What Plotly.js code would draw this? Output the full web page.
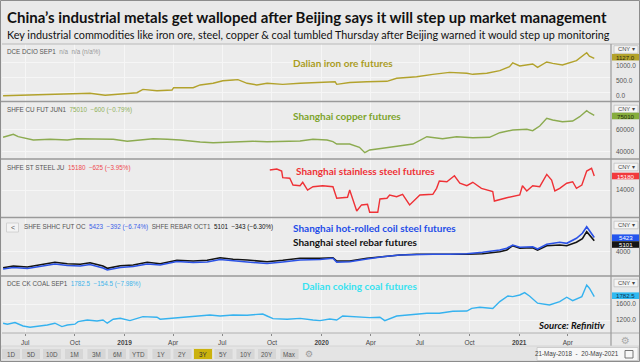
<!DOCTYPE html>
<html><head><meta charset="utf-8">
<script src="https://cdn.plot.ly/plotly-3.0.1.min.js"></script>
<style>html,body{margin:0;padding:0;background:#eaeaea;}#chart{width:640px;height:362px;}</style>
</head><body><div id="chart"></div>
<script>
// ---------- DATA ----------
const ironDates = ['2018-05-21','2018-07-16','2018-09-17','2018-10-29','2018-11-26','2018-12-18','2019-01-24','2019-02-04','2019-03-02','2019-03-30','2019-04-02','2019-05-08','2019-05-21','2019-06-14','2019-07-02','2019-07-21','2019-07-30','2019-08-16','2019-09-03','2019-09-22','2019-10-21','2019-11-22','2019-12-29','2020-01-26','2020-01-29','2020-02-22','2020-03-25','2020-05-01','2020-05-19','2020-06-25','2020-07-25','2020-08-25','2020-09-26','2020-10-07','2020-11-02','2020-11-26','2020-12-14','2020-12-20','2021-01-02','2021-01-26','2021-02-04','2021-02-21','2021-03-04','2021-03-22','2021-04-17','2021-05-06','2021-05-11','2021-05-20'];
const ironValues = [-100,-75,-55,-20,-85,-45,0,110,65,90,165,165,255,310,395,420,430,310,255,310,275,310,330,360,275,335,360,375,475,525,605,670,640,605,640,725,855,985,880,945,835,1010,965,910,1055,1315,1205,1127];

const copperDates = ['2018-05-21','2018-05-29','2018-06-09','2018-06-18','2018-07-05','2018-07-16','2018-08-16','2018-09-17','2018-10-05','2018-11-11','2018-12-11','2019-01-06','2019-01-30','2019-02-23','2019-03-21','2019-04-14','2019-05-21','2019-06-14','2019-07-21','2019-08-27','2019-09-22','2019-10-21','2019-11-22','2019-12-16','2020-01-11','2020-01-22','2020-01-29','2020-02-22','2020-03-11','2020-03-21','2020-03-30','2020-04-23','2020-05-25','2020-06-18','2020-07-14','2020-07-25','2020-08-12','2020-09-07','2020-10-07','2020-11-07','2020-11-26','2020-12-20','2021-01-15','2021-01-26','2021-02-08','2021-02-21','2021-03-04','2021-03-22','2021-04-10','2021-04-23','2021-05-06','2021-05-11','2021-05-20'];
const copperValues = [52860,54020,55540,53390,51610,50450,51070,50450,51610,51610,51070,49290,50450,51610,51070,50450,48660,48040,48660,49290,48930,49290,49550,51070,50450,48930,46870,46870,43930,39110,41520,43040,45090,46870,53390,52860,51610,53390,52500,52860,56960,59380,60000,58750,62950,69820,68300,66790,67410,71250,76610,74820,72500];

const stainlessDates = ['2019-09-27','2019-10-10','2019-10-19','2019-10-21','2019-11-03','2019-11-09','2019-11-22','2019-11-27','2019-12-06','2019-12-16','2020-01-03','2020-01-22','2020-01-29','2020-02-18','2020-02-22','2020-02-28','2020-03-06','2020-03-15','2020-03-26','2020-03-30','2020-04-14','2020-04-18','2020-05-01','2020-05-06','2020-05-19','2020-05-30','2020-06-12','2020-07-01','2020-07-25','2020-08-01','2020-08-06','2020-08-20','2020-09-03','2020-09-13','2020-09-26','2020-10-07','2020-10-23','2020-11-13','2020-11-16','2020-12-09','2021-01-02','2021-01-07','2021-01-15','2021-01-26','2021-02-08','2021-02-21','2021-03-02','2021-03-08','2021-03-17','2021-03-30','2021-04-10','2021-04-17','2021-04-27','2021-05-06','2021-05-15','2021-05-20'];
const stainlessValues = [15690,15770,15600,15040,14990,14420,14360,14650,14000,14280,14360,14280,13300,13385,14000,13160,12230,12740,12800,12120,12120,13240,13300,13580,13435,13640,12740,13580,13640,14140,14760,14700,15200,14570,14360,14650,14140,13860,13070,13350,13580,14360,13920,14360,14280,15320,14840,13920,14140,14570,14700,14140,14420,15600,15830,15180];

const steelDates = ['2018-05-21','2018-06-09','2018-07-05','2018-07-29','2018-08-25','2018-09-17','2018-10-11','2018-10-29','2018-11-22','2018-11-30','2018-12-24','2019-01-17','2019-02-12','2019-03-08','2019-04-08','2019-05-08','2019-06-03','2019-06-27','2019-07-21','2019-08-16','2019-09-09','2019-09-22','2019-10-21','2019-11-22','2019-12-29','2020-01-22','2020-01-29','2020-02-22','2020-03-25','2020-04-23','2020-05-25','2020-06-25','2020-07-25','2020-08-25','2020-09-26','2020-10-25','2020-11-26','2020-12-09','2020-12-20','2021-01-02','2021-01-26','2021-02-04','2021-02-21','2021-03-17','2021-03-30','2021-04-17','2021-04-28','2021-05-06','2021-05-13','2021-05-20'];
const hrcValues   = [2270,2420,2320,2520,2770,2620,2570,2720,2370,2170,2420,2520,2770,2670,3020,2920,2970,3220,3070,2970,2870,2820,2970,3170,3220,3340,2940,3000,3270,3500,3670,3740,3740,3740,3800,3940,4170,4350,4670,4440,4500,4270,4740,4940,4840,5340,5840,6500,5940,5423];
const rebarValues = [2400,2570,2470,2670,2940,2800,2740,2900,2570,2340,2600,2670,2940,2800,3140,3070,3140,3400,3240,3170,3070,3000,3140,3340,3340,3400,3070,3070,3340,3500,3670,3740,3740,3670,3740,3800,4000,4170,4600,4340,4400,4170,4600,4670,4600,4940,5300,6000,5500,5101];

const coalDates = ['2018-05-21','2018-05-29','2018-06-12','2018-06-27','2018-07-10','2018-07-23','2018-08-11','2018-08-25','2018-09-07','2018-09-17','2018-10-01','2018-10-07','2018-10-24','2018-11-11','2018-11-22','2018-11-30','2018-12-11','2018-12-24','2019-01-11','2019-02-04','2019-03-02','2019-03-08','2019-04-01','2019-04-27','2019-05-21','2019-06-08','2019-06-27','2019-07-21','2019-08-16','2019-09-14','2019-09-22','2019-10-03','2019-10-29','2019-11-22','2019-12-16','2019-12-29','2020-01-16','2020-01-29','2020-02-09','2020-03-06','2020-03-30','2020-04-18','2020-04-27','2020-05-19','2020-06-12','2020-07-14','2020-08-06','2020-08-31','2020-09-26','2020-10-05','2020-10-20','2020-11-13','2020-11-26','2020-12-11','2020-12-20','2021-01-02','2021-01-11','2021-01-20','2021-02-04','2021-02-26','2021-03-17','2021-03-30','2021-04-10','2021-04-27','2021-05-06','2021-05-11','2021-05-20'];
const coalValues = [1120,1095,1135,1050,1020,1035,1075,1120,1035,1075,1095,1160,1200,1175,1200,1120,1220,1245,1185,1285,1270,1220,1245,1285,1300,1325,1300,1325,1320,1350,1300,1235,1220,1240,1200,1185,1225,1200,1300,1285,1260,1270,1185,1300,1335,1370,1370,1420,1425,1490,1520,1490,1660,1800,1785,1825,1885,1800,1620,1575,1660,1770,1685,1785,2075,1995,1782.5];

const tickDates = ['2018-07-01','2018-10-01','2019-01-01','2019-04-01','2019-07-01','2019-10-01','2020-01-01','2020-04-01','2020-07-01','2020-10-01','2021-01-01','2021-04-01'];
const tickLabels = ['Jul','Oct','<b>2019</b>','Apr','Jul','Oct','<b>2020</b>','Apr','Jul','Oct','<b>2021</b>','Apr'];

const titleText = 'China’s industrial metals get walloped after Beijing says it will step up market management';
const subtitleText = 'Key industrial commodities like iron ore, steel, copper & coal tumbled Thursday after Beijing warned it would step up monitoring';
const rangeButtons = ['1D','5D','10D','1M','3M','6M','YTD','1Y','2Y','3Y','5Y','10Y','20Y','Max'];

// ---------- LAYOUT HELPERS ----------
const W = 640, H = 362, L = 2, R = 29, T = 44, B = 29;
const PW = W - L - R, PH = H - T - B;
const px = x => (x - L) / PW;
const py = y => (H - B - y) / PH;

const C = {iron:'#b2a22c', ironT:'#aa9c1e', copper:'#8cab50', copperT:'#7da42c', stain:'#ef3136', hrc:'#2b52e6', rebar:'#141414', coal:'#35b2ef', coalT:'#38e2f0'};

const bounds = [44, 101.5, 159, 217.5, 276, 333];
const dom = i => [py(bounds[i+1]), py(bounds[i])];

const GRID = '#f6f6f6';
const yax = (i, range, tickvals, fmt, shift) => ({
  domain: dom(i), range: range, side: 'right', anchor: 'x',
  tickvals: tickvals, tickformat: fmt, showgrid: true, gridcolor: GRID, gridwidth: 1,
  zeroline: false, showline: false, ticks: '', ticklabelstandoff: 4, ticklabelshift: shift || 0,
  tickfont: {family: 'Liberation Sans, Arial', size: 6.5, color: '#555'}, fixedrange: true
});

const traces = [
  {x: ironDates, y: ironValues, yaxis: 'y', line: {color: C.iron, width: 1.4}},
  {x: copperDates, y: copperValues, yaxis: 'y2', line: {color: C.copper, width: 1.4}},
  {x: stainlessDates, y: stainlessValues, yaxis: 'y3', line: {color: C.stain, width: 1.4}},
  {x: steelDates, y: rebarValues, yaxis: 'y4', line: {color: C.rebar, width: 1.6}},
  {x: steelDates, y: hrcValues, yaxis: 'y4', line: {color: C.hrc, width: 1.6}},
  {x: coalDates, y: coalValues, yaxis: 'y5', line: {color: C.coal, width: 1.4}}
].map(t => Object.assign({type: 'scatter', mode: 'lines', xaxis: 'x', hoverinfo: 'skip', showlegend: false}, t));

const shapes = [];
const annotations = [];
const hline = (y, x0, x1, color, w) => shapes.push({type:'line', xref:'paper', yref:'paper', x0:px(x0), x1:px(x1), y0:py(y), y1:py(y), line:{color:color, width:w}});
const vline = (x, y0, y1, color, w) => shapes.push({type:'line', xref:'paper', yref:'paper', x0:px(x), x1:px(x), y0:py(y0), y1:py(y1), line:{color:color, width:w}});
const rect = (x0, y0, x1, y1, fill, lc, lw) => shapes.push({type:'rect', xref:'paper', yref:'paper', x0:px(x0), x1:px(x1), y0:py(y1), y1:py(y0), fillcolor:fill, line:{color:lc || fill, width: lw === undefined ? 0 : lw}, layer:'above'});
const text = (x, y, t, o) => annotations.push(Object.assign({xref:'paper', yref:'paper', x:px(x), y:py(y), text:t, showarrow:false, xanchor:'left', yanchor:'middle', font:{family:'Liberation Sans, Arial', size:6.5, color:'#555'}}, o || {}));

// panel borders
hline(44, 2, 640, '#b8b8b8', 1);
[101.5, 159, 217.5, 276].forEach(y => hline(y, 0, 640, '#9a9a9a', 1.6));
hline(333, 2, 640, '#b0b0b0', 1);
vline(611, 44, 346, '#9a9a9a', 1.2);

// bottom bar
rect(1, 346, 639, 361, '#e4e4e4', '#cfcfcf', 0.8);
const btnX = [11, 31, 52, 74, 96.5, 117, 138.5, 161.5, 182.5, 203, 223.5, 245.5, 267, 289.5];
rangeButtons.forEach((b, i) => {
  rect(btnX[i] - 9.5, 348.5, btnX[i] + 9.5, 359.5, b === '3Y' ? '#cbb20e' : '#d6d6d6', '#e6e6e6', 0.8);
  text(btnX[i], 354, b, {xanchor:'center', font:{family:'Liberation Sans, Arial', size:6.3, color: b === '3Y' ? '#333' : '#555'}});
});
text(309, 353.8, '⚙', {xanchor:'center', font:{family:'DejaVu Sans', size:9, color:'#999'}});
rect(537, 347.5, 638, 360.5, '#f7f7f7', '#c4c4c4', 0.8);
text(577, 354, '21-May-2018  -  20-May-2021', {xanchor:'center', font:{family:'Liberation Sans, Arial', size:6.3, color:'#444'}});
rect(625, 350.5, 633, 358, 'rgba(0,0,0,0)', '#666', 0.9);
text(625, 340.5, '⚙', {xanchor:'center', font:{family:'DejaVu Sans', size:10, color:'#aaa'}});

// whole frame
shapes.push({type:'rect', xref:'paper', yref:'paper', x0:px(0.5), x1:px(639.5), y0:py(361.5), y1:py(0.5), line:{color:'#8c8c8c', width:1}});

// titles
text(5, 17, '<b>' + titleText + '</b>', {font:{family:'Lato', size:15, color:'#111'}});
text(5, 35, subtitleText, {font:{family:'Lato', size:10.8, color:'#111'}});

// panel headers
const hf = {family:'Liberation Sans, Arial', size:6.3, color:'#555'};
text(5, 51.7, 'DCE DCIO SEP1  <span style="color:#999">n/a  n/a (n/a%)</span>', {font:hf});
text(5, 110, 'SHFE CU FUT JUN1  <span style="color:#8fb05a">75010  \u2212600 (\u22120.79%)</span>', {font:hf});
text(5, 168.3, 'SHFE ST STEEL JU  <span style="color:#ef4b4f">15180  \u2212625 (\u22123.95%)</span>', {font:hf});
rect(6.5, 223, 18.5, 232, '#f3f3f3', '#cccccc', 0.8);
text(12.5, 227.3, '<', {xanchor:'center', font:{family:'Liberation Sans, Arial', size:7, color:'#555'}});
text(22, 227.3, 'SHFE SHHC FUT OC  <span style="color:#3b5fe8">5423  \u2212392 (\u22126.74%)</span>  SHFE REBAR OCT1  <span style="color:#111">5101  \u2212343 (\u22126.30%)</span>', {font:hf});
text(5, 284.3, 'DCE CK COAL SEP1  <span style="color:#40b4ea">1782.5  \u2212154.5 (\u22127.98%)</span>', {font:hf});

// series labels
const lf = (c) => ({family:'Lato', size:10, color:c});
text(291, 62.7, '<b>Dalian iron ore futures</b>', {font:lf(C.ironT)});
text(291, 116, '<b>Shanghai copper futures</b>', {font:lf(C.copperT)});
text(294, 171, '<b>Shanghai stainless steel futures</b>', {font:lf(C.stain)});
text(291, 228.3, '<b>Shanghai hot-rolled coil steel futures</b>', {font:lf('#1f4de8')});
text(291, 241.7, '<b>Shanghai steel rebar futures</b>', {font:lf('#111')});
text(300, 286, '<b>Dalian coking coal futures</b>', {font:lf(C.coalT)});
text(536, 325, '<b><i>Source: Refinitiv</i></b>', {font:{family:'Lato', size:9.6, color:'#111'}});

// CNY buttons and price badges
[49.5, 109, 167, 225, 283].forEach(y => {
  rect(614, y - 3.8, 638, y + 3.8, '#f4f4f4', '#c2c2c2', 0.8);
  text(626, y, 'CNY ▾', {xanchor:'center', borderpad:0, font:{family:'Liberation Sans, Arial', size:5.8, color:'#444'}});
});
const badge = (y, t, bg, fg) => {
  rect(612, y - 3.3, 639, y + 3.3, bg, bg, 0);
  text(625.5, y, t, {xanchor:'center', borderpad:0, font:{family:'Liberation Sans, Arial', size:6.1, color:fg}});
};
badge(57.2, '1127.0', '#b3a22a', '#2a2a10');
badge(116, '75010', '#86ad3c', '#1f2a10');
badge(176, '15180', '#f23a3c', '#ffffff');
badge(237.7, '5423', '#2456ee', '#ffffff');
badge(244.5, '5101', '#151515', '#ffffff');
badge(295.7, '1782.5', '#2fb9f1', '#10304a');

const layout = {
  width: W, height: H,
  margin: {l: L, r: R, t: T, b: B, pad: 0},
  paper_bgcolor: '#e9e9e9', plot_bgcolor: '#ececec',
  showlegend: false,
  xaxis: {
    type: 'date', range: ['2018-05-19', '2021-06-20'], anchor: 'y5',
    tickvals: tickDates, ticktext: tickLabels, showgrid: true, gridcolor: GRID, gridwidth: 1,
    zeroline: false, showline: false, ticks: 'outside', ticklen: 2, tickcolor: '#888', tickwidth: 1,
    ticklabelstandoff: 1,
    tickfont: {family: 'Liberation Sans, Arial', size: 6.5, color: '#444'}, fixedrange: true
  },
  yaxis:  yax(0, [-289, 1602], [0, 500, 1000], '.1f', 3),
  yaxis2: yax(1, [33480, 84820], [40000, 60000], 'd'),
  yaxis3: yax(2, [11680, 16615], [14000], 'd'),
  yaxis4: yax(3, [1570, 7420], [4000], 'd'),
  yaxis5: yax(4, [875, 2300], [1200, 1600], '.1f'),
  shapes: shapes,
  annotations: annotations
};

Plotly.newPlot('chart', traces, layout, {staticPlot: true, displayModeBar: false});
</script>
</body></html>
